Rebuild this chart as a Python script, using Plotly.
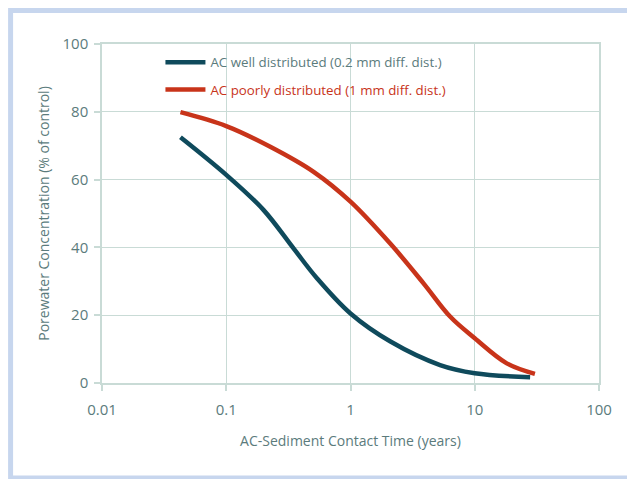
import plotly.graph_objects as go

# Data
well_x = [0.0428, 0.1, 0.2, 0.348, 0.537, 1.0, 2.08, 5.26, 10.0, 27.9]
well_y = [72.5, 61.4, 51.0, 39.7, 30.9, 20.5, 12.3, 5.3, 2.9, 1.7]

poor_x = [0.0428, 0.1, 0.226, 0.505, 1.0, 2.08, 3.87, 6.33, 10.0, 18.1, 30.5]
poor_y = [79.9, 75.8, 69.7, 62.3, 53.5, 41.2, 29.4, 19.6, 13.2, 5.8, 2.7]

x_tickvals = [0.01, 0.1, 1, 10, 100]
x_ticktext = ["0.01", "0.1", "1", "10", "100"]
y_tickvals = [0, 20, 40, 60, 80, 100]

well_name = "AC well distributed (0.2 mm diff. dist.)"
poor_name = "AC poorly distributed (1 mm diff. dist.)"

BLUE = "#0f4a5c"
RED = "#c8341a"
TEXT = "#5b7b7c"
GRID = "#c9dbd6"
FRAME = "#c7d6ee"
FONT = "Open Sans"

fig = go.Figure()
fig.add_trace(go.Scatter(
    x=well_x, y=well_y, mode="lines",
    name=f"<span style='color:{TEXT}'>{well_name}</span>",
    line=dict(color=BLUE, width=4.5, shape="spline", smoothing=1.0),
    legendgroup="a",
))
fig.add_trace(go.Scatter(
    x=poor_x, y=poor_y, mode="lines",
    name=f"<span style='color:{RED}'>{poor_name}</span>",
    line=dict(color=RED, width=4.5, shape="spline", smoothing=1.0),
    legendgroup="b",
))

# page body has an 8px margin; figure is sized to fill the rest of the window
W, H = 627, 471
L, R, T, B = 93.5, 36, 36, 96
pw, ph = W - L - R, H - T - B

def px(x):
    return (x - L) / pw

def py(y):
    return (H - B - y) / ph

fig.update_layout(
    width=W, height=H,
    margin=dict(l=L, r=R, t=T, b=B, pad=0),
    paper_bgcolor="white",
    plot_bgcolor="white",
    font=dict(family=FONT, size=14, color=TEXT),
    showlegend=True,
    legend=dict(
        x=px(152), y=py(39), xanchor="left", yanchor="top",
        bgcolor="rgba(0,0,0,0)", font=dict(family=FONT, size=13.3, color=TEXT),
        traceorder="grouped", tracegroupgap=7, itemwidth=40,
    ),
    shapes=[dict(
        type="rect", xref="paper", yref="paper",
        x0=px(2), x1=px(650), y0=py(470), y1=py(2.5),
        line=dict(color=FRAME, width=5), fillcolor="rgba(0,0,0,0)",
        layer="below",
    )],
)

fig.update_xaxes(
    type="log", range=[-2, 2],
    tickvals=x_tickvals, ticktext=x_ticktext,
    showgrid=True, gridcolor=GRID, gridwidth=1.2,
    showline=True, linecolor=GRID, linewidth=1.5, mirror=True,
    ticks="outside", ticklen=6, tickcolor=GRID, tickwidth=1.5,
    ticklabelstandoff=6,
    tickfont=dict(family=FONT, size=15, color=TEXT),
    title=dict(text="AC-Sediment Contact Time (years)", standoff=18,
               font=dict(family=FONT, size=14, color=TEXT)),
    zeroline=False,
)
fig.update_yaxes(
    range=[0, 100],
    tickvals=y_tickvals,
    showgrid=True, gridcolor=GRID, gridwidth=1.2,
    showline=True, linecolor=GRID, linewidth=1.5, mirror=True,
    ticks="outside", ticklen=6, tickcolor=GRID, tickwidth=1.5,
    ticklabelstandoff=3,
    tickfont=dict(family=FONT, size=15, color=TEXT),
    title=dict(text="Porewater Concentration (% of control)", standoff=10,
               font=dict(family=FONT, size=14, color=TEXT)),
    zeroline=False,
)

fig.write_html("out.html")
